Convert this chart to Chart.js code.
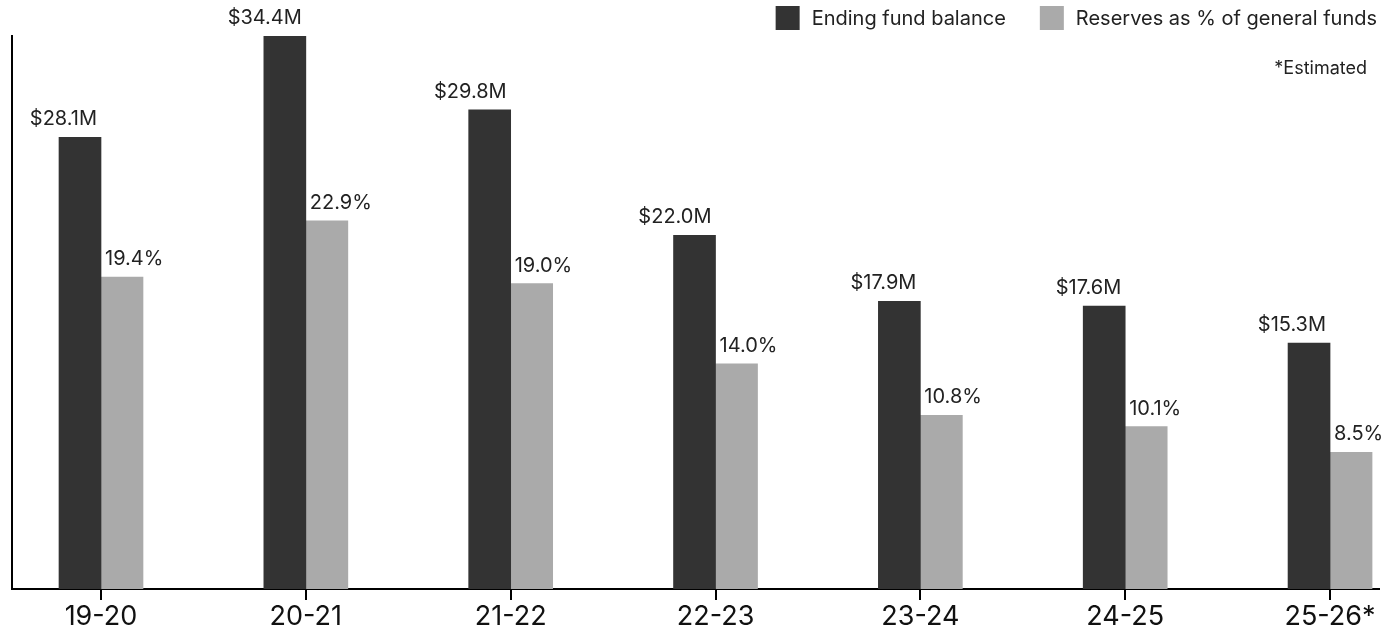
<!DOCTYPE html>
<html>
<head>
<meta charset="utf-8">
<script src="https://cdn.jsdelivr.net/npm/chart.js@4.4.1/dist/chart.umd.min.js"></script>
<style>
  html, body { margin: 0; padding: 0; background: #fff; }
  #wrap { width: 1387px; height: 630px; }
</style>
</head>
<body>
<div id="wrap"><canvas id="reserves-chart"></canvas></div>
<script>
// fiscal years and the two series shown per year
const years = ['19-20', '20-21', '21-22', '22-23', '23-24', '24-25', '25-26*'];
const fundBalance = [28.1, 34.4, 29.8, 22.0, 17.9, 17.6, 15.3];   // $M
const reservePct = [19.4, 22.9, 19.0, 14.0, 10.8, 10.1, 8.5];     // %
const seriesNames = ['Ending fund balance', 'Reserves as % of general funds'];
const seriesColors = ['#333333', '#aaaaaa'];
const footnote = '*Estimated';

const FONT = 'Inter, "Noto Sans", sans-serif';

// value labels above each bar
const barLabels = {
    id: 'barLabels',
    afterDatasetsDraw(chart) {
        const ctx = chart.ctx;
        ctx.save();
        ctx.font = '20px ' + FONT;
        ctx.fillStyle = '#222';
        ctx.textBaseline = 'alphabetic';
        chart.data.datasets.forEach((ds, di) => {
            chart.getDatasetMeta(di).data.forEach((bar, i) => {
                const v = ds.data[i].y;
                if (di === 0) {
                    ctx.textAlign = 'right';
                    ctx.fillText('$' + v.toFixed(1) + 'M', bar.x + bar.width / 2 - 4, bar.y - 12);
                } else {
                    ctx.textAlign = 'left';
                    ctx.fillText(v.toFixed(1) + '%', bar.x - bar.width / 2 + 4, bar.y - 12);
                }
            });
        });
        ctx.restore();
    }
};

// legend in the top right corner plus the footnote under it
const cornerLegend = {
    id: 'cornerLegend',
    afterDraw(chart) {
        const ctx = chart.ctx;
        ctx.save();
        ctx.font = '20px ' + FONT;
        ctx.textBaseline = 'middle';
        ctx.textAlign = 'left';
        let x = chart.width - 10;
        const box = 24, gap = 12, spacing = 34, top = 6;
        for (let i = chart.data.datasets.length - 1; i >= 0; i--) {
            const ds = chart.data.datasets[i];
            const w = ctx.measureText(ds.label).width;
            x -= w;
            ctx.fillStyle = '#222';
            ctx.fillText(ds.label, x, top + box / 2 + 1);
            x -= gap + box;
            ctx.fillStyle = ds.backgroundColor;
            ctx.fillRect(x, top, box, box);
            x -= spacing;
        }
        ctx.font = '18px ' + FONT;
        ctx.textAlign = 'right';
        ctx.fillStyle = '#222';
        ctx.fillText(footnote, chart.width - 20, 69);
        ctx.restore();
    }
};

new Chart(document.getElementById('reserves-chart'), {
    type: 'bar',
    data: {
        datasets: [
            {
                label: seriesNames[0],
                data: fundBalance.map((v, i) => ({ x: i, y: v })),
                backgroundColor: seriesColors[0]
            },
            {
                label: seriesNames[1],
                data: reservePct.map((v, i) => ({ x: i, y: v })),
                backgroundColor: seriesColors[1]
            }
        ]
    },
    options: {
        responsive: true,
        maintainAspectRatio: false,
        animation: false,
        barThickness: 42,
        layout: { padding: { left: 12, right: 8, top: 36, bottom: 0 } },
        plugins: {
            legend: { display: false },
            tooltip: { enabled: false }
        },
        scales: {
            x: {
                type: 'linear',
                offset: false,
                min: -0.4345,
                max: 6.239,
                afterBuildTicks: axis => { axis.ticks = years.map((_, i) => ({ value: i })); },
                afterFit: axis => { axis.height = 41; },
                ticks: {
                    autoSkip: false,
                    maxRotation: 0,
                    padding: 1,
                    color: '#111',
                    font: { family: FONT, size: 27 },
                    callback: v => years[v]
                },
                grid: {
                    offset: false,
                    drawOnChartArea: false,
                    drawTicks: true,
                    tickLength: 11,
                    color: '#000',
                    lineWidth: 2
                },
                border: { color: '#000', width: 2 }
            },
            y: {
                min: 0,
                max: 34.4,
                afterFit: axis => { axis.width = 0; },
                ticks: { display: false },
                grid: { display: false },
                border: { color: '#000', width: 2 }
            }
        }
    },
    plugins: [barLabels, cornerLegend]
});
</script>
</body>
</html>
